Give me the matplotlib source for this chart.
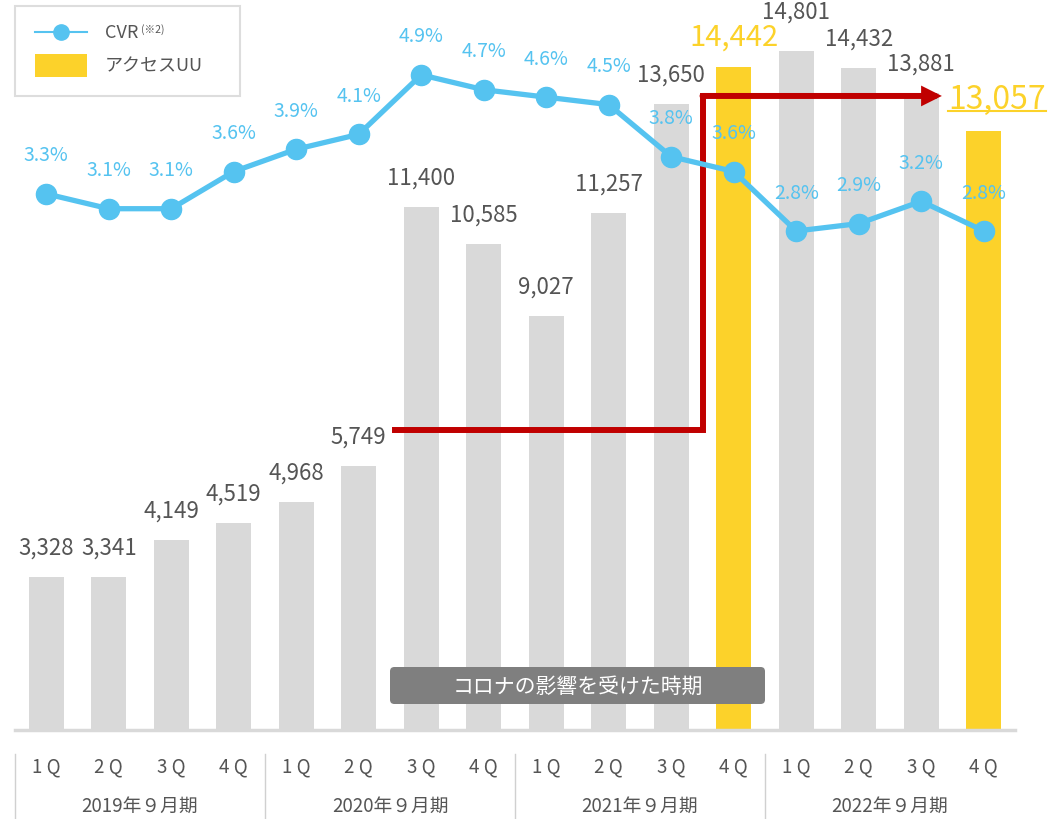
import numpy as np
import matplotlib
matplotlib.use('Agg')
import matplotlib.pyplot as plt
from matplotlib.patches import Rectangle, FancyBboxPatch
from matplotlib.lines import Line2D
from matplotlib.transforms import blended_transform_factory

plt.rcParams['font.family'] = ['Noto Sans CJK JP', 'DejaVu Sans']

# chart data
quarters = ['1 Q', '2 Q', '3 Q', '4 Q'] * 4
years = ['2019年９月期', '2020年９月期', '2021年９月期', '2022年９月期']
access_uu = [3328, 3341, 4149, 4519, 4968, 5749, 11400, 10585,
             9027, 11257, 13650, 14442, 14801, 14432, 13881, 13057]
cvr = [3.3, 3.1, 3.1, 3.6, 3.9, 4.1, 4.9, 4.7,
       4.6, 4.5, 3.8, 3.6, 2.8, 2.9, 3.2, 2.8]
highlight = [11, 15]          # yellow bars
covid_first, covid_last = 6, 11
covid_label = 'コロナの影響を受けた時期'

GRAY_BAR = '#d9d9d9'
YELLOW = '#fcd22a'
BLUE = '#55c3f0'
TEXT = '#555555'
RED = '#c00000'

W, H = 1048, 820


def fpx(x, y):
    # pixel (from top-left) -> figure fraction
    return x / W, 1 - y / H


fig = plt.figure(figsize=(W / 100, H / 100), dpi=100)
ax = fig.add_axes([15 / W, 89 / H, 1000 / W, 731 / H])
ax2 = ax.twinx()
ax.set_xlim(-0.5, 15.5)
ax.set_ylim(0, 15930)
ax2.set_ylim(-3.91, 5.92)
ax.axis('off')
ax2.axis('off')

x = np.arange(len(access_uu))
colors = [YELLOW if i in highlight else GRAY_BAR for i in x]
ax.bar(x, access_uu, width=0.56, color=colors, zorder=2)
ax.axhline(0, color=GRAY_BAR, lw=2.5, clip_on=False, zorder=2)

# bar value labels
nudge = {12: (0, 10)}
for i, v in enumerate(access_uu):
    if i in highlight:
        continue
    dx, dy = nudge.get(i, (0, 0))
    ax.annotate(f'{v:,}', (i, v), xytext=(dx, 30 + dy), textcoords='offset pixels',
                ha='center', va='center', fontsize=16, color=TEXT, zorder=6)

ax.annotate(f'{access_uu[11]:,}', (11, access_uu[11]), xytext=(0, 31),
            textcoords='offset pixels', ha='center', va='center',
            fontsize=21, color=YELLOW, zorder=6)
last = ax.annotate(f'{access_uu[15]:,}', (15, access_uu[15]), xytext=(13, 23),
                   textcoords='offset pixels', ha='center', va='baseline',
                   fontsize=23, color=YELLOW, zorder=6)

# red step arrow
x0 = covid_first - 0.42
xv = covid_last - 0.5
y_low = access_uu[5] + 790
y_high = access_uu[15] + 760
ax.plot([x0, xv, xv], [y_low, y_low, y_high], color=RED, lw=4.3,
        solid_joinstyle='miter', solid_capstyle='projecting', zorder=4)
ax.annotate('', xy=(14.33, y_high), xytext=(xv, y_high),
            arrowprops=dict(arrowstyle='-|>', color=RED, lw=4.3, mutation_scale=20,
                            shrinkA=0, shrinkB=0, joinstyle='miter'), zorder=4)

# CVR line
ax2.plot(x, cvr, color=BLUE, lw=3.8, marker='o', ms=14.5, zorder=3)
for i, v in enumerate(cvr):
    ax2.annotate(f'{v:.1f}%', (i, v), xytext=(0, 39), textcoords='offset pixels',
                 ha='center', va='center', fontsize=14, color=BLUE)

# covid period box
trans = blended_transform_factory(ax.transData, ax.transAxes)
box = FancyBboxPatch((covid_first - 0.5, 26 / 731), covid_last - covid_first + 1, 37 / 731,
                     boxstyle='round,pad=0,rounding_size=0.07', mutation_aspect=0.0857,
                     transform=trans, fc='#7f7f7f', ec='none', zorder=7)
ax.add_patch(box)
ax.text((covid_first + covid_last) / 2, 44.5 / 731, covid_label, transform=trans,
        ha='center', va='center', fontsize=15, color='white', zorder=8)

# x axis labels
tx = blended_transform_factory(ax.transData, fig.transFigure)
for i, q in enumerate(quarters):
    fig.text(i, 1 - 767 / H, q, transform=tx, ha='center', va='center',
             fontsize=13.5, color=TEXT)
for g, yl in enumerate(years):
    fig.text(4 * g + 1.5, 1 - 806 / H, yl, transform=tx, ha='center', va='center',
             fontsize=13.5, color=TEXT)
    fig.add_artist(Line2D([4 * g - 0.5] * 2, [0, 1 - 755 / H], transform=tx,
                          color='#d0d0d0', lw=1))

# legend box
lx, ly = fpx(15, 97)
fig.add_artist(Rectangle((lx, ly), 225 / W, 90 / H, transform=fig.transFigure,
                         fc='white', ec='#dddddd', lw=1.5))
fig.add_artist(Line2D([35 / W, 87 / W], [1 - 33 / H] * 2, transform=fig.transFigure,
                      color=BLUE, lw=1.5))
fig.add_artist(Line2D([61 / W], [1 - 33 / H], transform=fig.transFigure,
                      color=BLUE, marker='o', ms=11, lw=0))
rx, ry = fpx(35, 78)
fig.add_artist(Rectangle((rx, ry), 52 / W, 23 / H, transform=fig.transFigure,
                         fc=YELLOW, ec='none'))
fig.text(*fpx(105, 33), 'CVR', ha='left', va='center', fontsize=13, color=TEXT)
fig.text(*fpx(141, 30), '(※2)', ha='left', va='center', fontsize=7.5, color=TEXT)
fig.text(*fpx(105, 66), 'アクセスUU', ha='left', va='center', fontsize=13, color=TEXT)

# underline under the latest value
fig.canvas.draw()
bb = last.get_window_extent(fig.canvas.get_renderer())
base_y = ax.transData.transform((15, access_uu[15]))[1] + 20
fig.add_artist(Line2D([bb.x0 / W, bb.x1 / W], [base_y / H] * 2, transform=fig.transFigure,
                      color=YELLOW, lw=1.5))

fig.savefig('out.png', dpi=100)
